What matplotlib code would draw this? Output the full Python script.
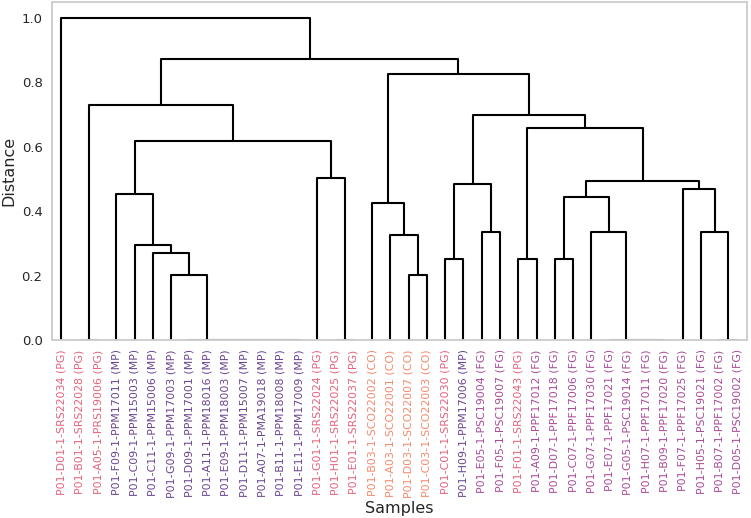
import matplotlib
matplotlib.use("Agg")
import matplotlib.pyplot as plt
import seaborn as sns

sns.set_style("white")
plt.rcParams['font.family'] = ['DejaVu Sans']

# ---- data ----
samples = ["P01-D01-1-SRS22034", "P01-B01-1-SRS22028", "P01-A05-1-PRS19006",
           "P01-F09-1-PPM17011", "P01-C09-1-PPM15003", "P01-C11-1-PPM15006",
           "P01-G09-1-PPM17003", "P01-D09-1-PPM17001", "P01-A11-1-PPM18016",
           "P01-E09-1-PPM18003", "P01-D11-1-PPM15007", "P01-A07-1-PMA19018",
           "P01-B11-1-PPM18008", "P01-E11-1-PPM17009", "P01-G01-1-SRS22024",
           "P01-H01-1-SRS22025", "P01-E01-1-SRS22037", "P01-B03-1-SCO22002",
           "P01-A03-1-SCO22001", "P01-D03-1-SCO22007", "P01-C03-1-SCO22003",
           "P01-C01-1-SRS22030", "P01-H09-1-PPM17006", "P01-E05-1-PSC19004",
           "P01-F05-1-PSC19007", "P01-F01-1-SRS22043", "P01-A09-1-PPF17012",
           "P01-D07-1-PPF17018", "P01-C07-1-PPF17006", "P01-G07-1-PPF17030",
           "P01-E07-1-PPF17021", "P01-G05-1-PSC19014", "P01-H07-1-PPF17011",
           "P01-B09-1-PPF17020", "P01-F07-1-PPF17025", "P01-H05-1-PSC19021",
           "P01-B07-1-PPF17002", "P01-D05-1-PSC19002"]
groups = ["PG", "PG", "PG", "MP", "MP", "MP", "MP", "MP", "MP", "MP", "MP", "MP",
          "MP", "MP", "PG", "PG", "PG", "CO", "CO", "CO", "CO", "PG", "MP", "FG",
          "FG", "PG", "FG", "FG", "FG", "FG", "FG", "FG", "FG", "FG", "FG", "FG",
          "FG", "FG"]

# linkage rows: (child_a, child_b, distance); new cluster id = n_leaves + row index
merge_a = [12, 11, 10, 9, 8, 7, 1, 15, 32, 31, 30, 36,
           6, 5, 4, 3, 14, 53, 44, 19, 18, 17, 21, 23, 60, 25, 27, 29, 64, 35, 34, 66, 63, 62, 59, 56, 0]
merge_b = [13, 38, 39, 40, 41, 42, 2, 16, 33, 46, 47, 37,
           43, 50, 51, 52, 45, 54, 55, 20, 57, 58, 22, 24, 61, 26, 28, 48, 65, 49, 67, 68, 69, 70, 71, 72, 73]
merge_dist = [0, 0, 0, 0, 0, 0, 0, 0, 0, 0, 0, 0,
              0.202, 0.271, 0.297, 0.454, 0.502, 0.619, 0.729, 0.202, 0.326, 0.425,
              0.251, 0.336, 0.486, 0.251, 0.251, 0.336, 0.445, 0.336, 0.469, 0.494,
              0.659, 0.700, 0.826, 0.872, 1.000]

group_colors = {"PG": "#e6637c", "MP": "#6a4590", "CO": "#f28a6c", "FG": "#a94b97"}

# ---- layout ----
fig = plt.figure(figsize=(7.51, 5.18), dpi=100)
ax = fig.add_axes([0.0697, 0.343, 0.9246, 0.6536])

n = len(samples)
xpos = {i: 5 + 10 * i for i in range(n)}
ypos = {i: 0.0 for i in range(n)}
for k, (a, b, d) in enumerate(zip(merge_a, merge_b, merge_dist)):
    cid = n + k
    xa, xb = xpos[a], xpos[b]
    col = "k" if d > 0 else "0.55"
    ax.plot([xa, xa, xb, xb], [ypos[a], d, d, ypos[b]], color=col, lw=1.5, zorder=2)
    xpos[cid] = (xa + xb) / 2
    ypos[cid] = d

ax.set_xlim(0, 10 * n)
ax.set_ylim(0, max(merge_dist) * 1.05)
ax.set_xticks([xpos[i] for i in range(n)])
ax.set_xticklabels([f"{s} ({g})" for s, g in zip(samples, groups)], rotation=90, fontsize=7.9)
for lbl, g in zip(ax.get_xticklabels(), groups):
    lbl.set_color(group_colors[g])
ax.set_yticks([0.0, 0.2, 0.4, 0.6, 0.8, 1.0])
ax.tick_params(axis="y", labelsize=9.5, colors=".15")
ax.tick_params(axis="x", pad=3)
ax.set_xlabel("Samples", fontsize=11.5, color=".15", labelpad=2)
ax.set_ylabel("Distance", fontsize=11.5, color=".15")
for sp in ax.spines.values():
    sp.set_color(".8")
    sp.set_zorder(3)
    sp.set_linewidth(1.3)

fig.savefig("out.png", dpi=100)
